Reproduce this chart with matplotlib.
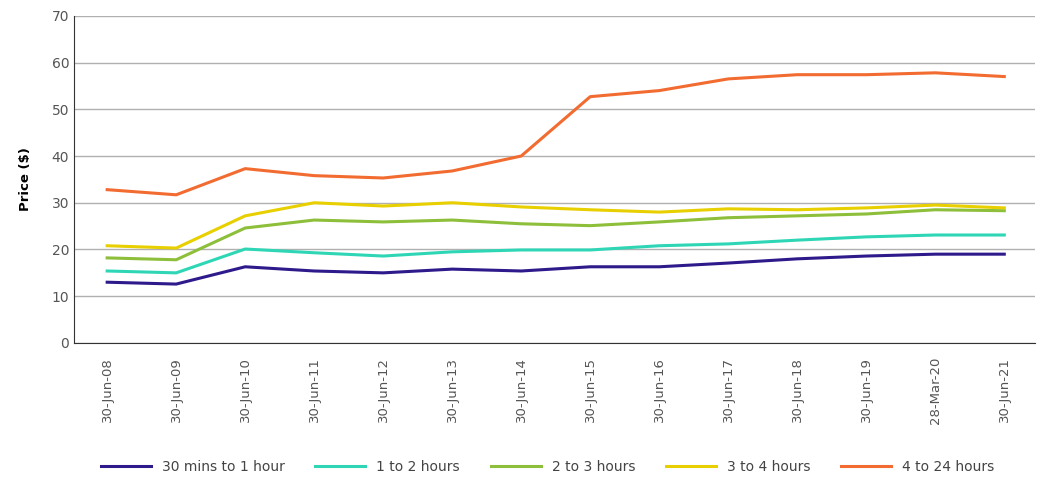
import numpy as np
import matplotlib.pyplot as plt

dates = ['30-Jun-08', '30-Jun-09', '30-Jun-10', '30-Jun-11', '30-Jun-12', '30-Jun-13', '30-Jun-14',
         '30-Jun-15', '30-Jun-16', '30-Jun-17', '30-Jun-18', '30-Jun-19', '28-Mar-20', '30-Jun-21']

min30_1h = [13.0, 12.6, 16.3, 15.4, 15.0, 15.8, 15.4, 16.3, 16.3, 17.1, 18.0, 18.6, 19.0, 19.0]
h1_2 = [15.4, 15.0, 20.1, 19.3, 18.6, 19.5, 19.9, 19.9, 20.8, 21.2, 22.0, 22.7, 23.1, 23.1]
h2_3 = [18.2, 17.8, 24.6, 26.3, 25.9, 26.3, 25.5, 25.1, 25.9, 26.8, 27.2, 27.6, 28.5, 28.3]
h3_4 = [20.8, 20.3, 27.2, 30.0, 29.3, 30.0, 29.1, 28.5, 28.0, 28.7, 28.5, 28.9, 29.5, 28.9]
h4_24 = [32.8, 31.7, 37.3, 35.8, 35.3, 36.8, 40.0, 52.7, 54.0, 56.5, 57.4, 57.4, 57.8, 57.0]

series = [
    ('30 mins to 1 hour', min30_1h, '#2e1a8a'),
    ('1 to 2 hours', h1_2, '#2ed6b6'),
    ('2 to 3 hours', h2_3, '#8dbf3a'),
    ('3 to 4 hours', h3_4, '#e8d000'),
    ('4 to 24 hours', h4_24, '#f26b30'),
]

fig = plt.figure(figsize=(10.37, 4.79), dpi=100)
ax = fig.add_axes([0.0714, 0.284, 0.927, 0.683])

x = np.arange(len(dates))
for name, vals, col in series:
    ax.plot(x, vals, color=col, lw=2.2, label=name)

ax.set_ylim(0, 70)
ax.set_yticks(range(0, 71, 10))
ax.set_xlim(-0.48, 13.45)
ax.set_xticks(x)
ax.set_xticklabels(dates, rotation=90, fontsize=9.5, color='#555555')
ax.tick_params(axis='y', labelsize=10, colors='#555555', length=0)
ax.tick_params(axis='x', length=0, pad=10)
ax.grid(axis='y', color='#b0b0b0', lw=1)
ax.set_axisbelow(True)
for s in ['top', 'right']:
    ax.spines[s].set_visible(False)
ax.spines['left'].set_color('#333333')
ax.spines['bottom'].set_color('#333333')
ax.set_ylabel('Price ($)', fontsize=9.5, fontweight='bold', labelpad=14)

fig.legend(loc='lower center', bbox_to_anchor=(0.528, -0.015), ncol=5, frameon=False,
           fontsize=10, handlelength=3.6, columnspacing=2.2, labelcolor='#444444')

fig.savefig('out.png', dpi=100)
